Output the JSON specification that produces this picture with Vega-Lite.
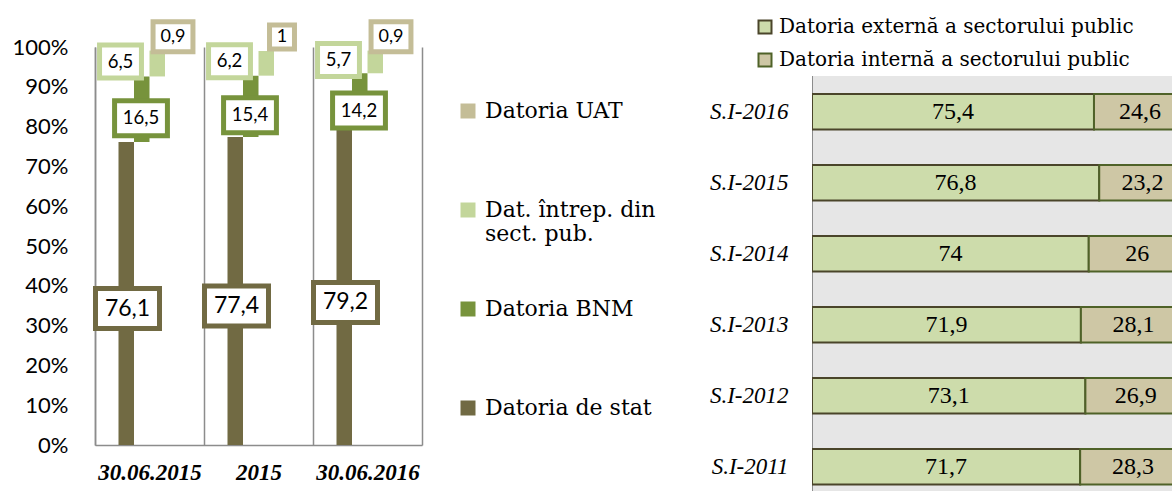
{
  "$schema": "https://vega.github.io/schema/vega-lite/v6.json",
  "background": "white",
  "padding": {"left": 12, "top": 11, "right": 0, "bottom": 0},
  "spacing": 53,
  "align": "none",
  "resolve": {
    "scale": {"color": "independent", "stroke": "independent", "x": "independent", "y": "independent"},
    "legend": {"color": "independent", "stroke": "independent"}
  },
  "config": {
    "view": {"stroke": null},
    "locale": {"number": {"decimal": ",", "thousands": ".", "grouping": [3], "currency": ["", ""]}},
    "axis": {"labelColor": "black"},
    "legend": {"labelColor": "black"}
  },
  "datasets": {
    "structure": [
      {"period": "30.06.2015", "series": "Datoria de stat", "value": 76.1},
      {"period": "30.06.2015", "series": "Datoria BNM", "value": 16.5},
      {"period": "30.06.2015", "series": "Dat. întrep. din sect. pub.", "value": 6.5},
      {"period": "30.06.2015", "series": "Datoria UAT", "value": 0.9},
      {"period": "2015", "series": "Datoria de stat", "value": 77.4},
      {"period": "2015", "series": "Datoria BNM", "value": 15.4},
      {"period": "2015", "series": "Dat. întrep. din sect. pub.", "value": 6.2},
      {"period": "2015", "series": "Datoria UAT", "value": 1},
      {"period": "30.06.2016", "series": "Datoria de stat", "value": 79.2},
      {"period": "30.06.2016", "series": "Datoria BNM", "value": 14.2},
      {"period": "30.06.2016", "series": "Dat. întrep. din sect. pub.", "value": 5.7},
      {"period": "30.06.2016", "series": "Datoria UAT", "value": 0.9}
    ],
    "shares": [
      {"period": "S.I-2016", "series": "Datoria externă a sectorului public", "value": 75.4},
      {"period": "S.I-2016", "series": "Datoria internă a sectorului public", "value": 24.6},
      {"period": "S.I-2015", "series": "Datoria externă a sectorului public", "value": 76.8},
      {"period": "S.I-2015", "series": "Datoria internă a sectorului public", "value": 23.2},
      {"period": "S.I-2014", "series": "Datoria externă a sectorului public", "value": 74},
      {"period": "S.I-2014", "series": "Datoria internă a sectorului public", "value": 26},
      {"period": "S.I-2013", "series": "Datoria externă a sectorului public", "value": 71.9},
      {"period": "S.I-2013", "series": "Datoria internă a sectorului public", "value": 28.1},
      {"period": "S.I-2012", "series": "Datoria externă a sectorului public", "value": 73.1},
      {"period": "S.I-2012", "series": "Datoria internă a sectorului public", "value": 26.9},
      {"period": "S.I-2011", "series": "Datoria externă a sectorului public", "value": 71.7},
      {"period": "S.I-2011", "series": "Datoria internă a sectorului public", "value": 28.3}
    ]
  },
  "hconcat": [
    {
      "width": 327,
      "height": 398,
      "data": {"name": "structure"},
      "transform": [
        {"stack": "value", "groupby": ["period"], "sort": [{"field": "value", "order": "descending"}], "as": ["y0", "y1"]}
      ],
      "encoding": {
        "x": {
          "field": "period", "type": "nominal",
          "sort": ["30.06.2015", "2015", "30.06.2016"],
          "scale": {"paddingInner": 0, "paddingOuter": 0},
          "axis": {
            "title": null, "tickBand": "extent", "ticks": false, "grid": true,
            "gridColor": "#8c8c8c", "gridWidth": 1.5, "domainColor": "#8c8c8c", "domainWidth": 1.5,
            "labelAngle": 0, "labelFont": "Liberation Serif", "labelFontStyle": "italic", "labelFontWeight": "bold",
            "labelFontSize": 23, "labelPadding": 16
          }
        },
        "y": {
          "field": "y0", "type": "quantitative",
          "scale": {"domain": [0, 100], "nice": false},
          "axis": {
            "title": null, "values": [0, 10, 20, 30, 40, 50, 60, 70, 80, 90, 100],
            "labelExpr": "datum.value + '%'", "labelFont": "Lato", "labelFontSize": 22,
            "ticks": false, "labelPadding": 27, "grid": false,
            "domainColor": "#8c8c8c", "domainWidth": 1.5
          }
        }
      },
      "layer": [
        {
          "mark": {"type": "bar"},
          "encoding": {
            "xOffset": {
              "field": "series", "type": "nominal",
              "scale": {"domain": [" ", "Datoria de stat", "Datoria BNM", "Dat. întrep. din sect. pub.", "Datoria UAT", "  "], "paddingInner": 0, "paddingOuter": 0.516}
            },
            "y2": {"field": "y1"},
            "color": {
              "field": "series", "type": "nominal",
              "scale": {
                "domain": ["Datoria UAT", "Dat. întrep. din sect. pub.", "Datoria BNM", "Datoria de stat"],
                "range": ["#C4BD97", "#C3D69B", "#77933C", "#716A43"]
              },
              "legend": {
                "title": null, "orient": "none", "legendX": 362, "legendY": 53, "padding": 0,
                "symbolType": "square", "symbolSize": 225, "symbolStrokeWidth": 0,
                "labelFont": "DejaVu Serif", "labelFontSize": 22, "labelLimit": 300, "labelOffset": 6,
                "rowPadding": 53,
                "labelExpr": "datum.label === 'Dat. întrep. din sect. pub.' ? ['Dat. întrep. din', 'sect. pub.'] : [datum.label, '']"
              }
            }
          }
        },
        {
          "transform": [
            {"filter": "datum.series === 'Datoria de stat'"},
            {"fold": ["y0", "y1"], "as": ["bound", "pos"]}
          ],
          "encoding": {
            "y": {"aggregate": "mean", "field": "pos", "type": "quantitative", "title": null},
            "detail": [{"field": "series", "type": "nominal"}, {"field": "value", "type": "quantitative"}]
          },
          "layer": [
            {"mark": {"type": "point", "shape": "M-1.6,-1H1.6V1H-1.6Z", "size": 1600, "filled": true, "fill": "white", "stroke": "#716A43", "strokeWidth": 5, "opacity": 1, "xOffset": -22, "yOffset": 15}},
            {"mark": {"type": "text", "font": "Lato", "fontSize": 23, "fill": "black", "xOffset": -22, "yOffset": 15},
             "encoding": {"text": {"field": "value", "type": "quantitative", "format": ".1~f"}}}
          ]
        },
        {
          "transform": [
            {"filter": "datum.series === 'Datoria BNM'"},
            {"fold": ["y0", "y1"], "as": ["bound", "pos"]}
          ],
          "encoding": {
            "y": {"aggregate": "mean", "field": "pos", "type": "quantitative", "title": null},
            "detail": [{"field": "series", "type": "nominal"}, {"field": "value", "type": "quantitative"}]
          },
          "layer": [
            {"mark": {"type": "point", "shape": "M-1.51,-1H1.51V1H-1.51Z", "size": 1225, "filled": true, "fill": "white", "stroke": "#77933C", "strokeWidth": 5, "opacity": 1, "xOffset": -8.5, "yOffset": 9}},
            {"mark": {"type": "text", "font": "Lato", "fontSize": 18.5, "fill": "black", "xOffset": -8.5, "yOffset": 9},
             "encoding": {"text": {"field": "value", "type": "quantitative", "format": ".1~f"}}}
          ]
        },
        {
          "transform": [
            {"filter": "datum.series === 'Dat. întrep. din sect. pub.'"},
            {"fold": ["y0", "y1"], "as": ["bound", "pos"]}
          ],
          "encoding": {
            "y": {"aggregate": "mean", "field": "pos", "type": "quantitative", "title": null},
            "detail": [{"field": "series", "type": "nominal"}, {"field": "value", "type": "quantitative"}]
          },
          "layer": [
            {"mark": {"type": "point", "shape": "M-1.27,-1H1.27V1H-1.27Z", "size": 1089, "filled": true, "fill": "white", "stroke": "#C3D69B", "strokeWidth": 5, "opacity": 1, "xOffset": -29, "yOffset": -2}},
            {"mark": {"type": "text", "font": "Lato", "fontSize": 18.5, "fill": "black", "xOffset": -29, "yOffset": -2},
             "encoding": {"text": {"field": "value", "type": "quantitative", "format": ".1~f"}}}
          ]
        },
        {
          "transform": [
            {"filter": "datum.series === 'Datoria UAT'"},
            {"fold": ["y0", "y1"], "as": ["bound", "pos"]}
          ],
          "encoding": {
            "y": {"aggregate": "mean", "field": "pos", "type": "quantitative", "title": null},
            "detail": [{"field": "series", "type": "nominal"}, {"field": "value", "type": "quantitative"}]
          },
          "layer": [
            {"mark": {"type": "point", "filled": true, "fill": "white", "stroke": "#C4BD97", "strokeWidth": 5, "opacity": 1, "xOffset": 23.5, "yOffset": -12},
             "encoding": {
               "shape": {"condition": {"test": "datum.value === 1", "value": "M-1.04,-1H1.04V1H-1.04Z"}, "value": "M-1.33,-1H1.33V1H-1.33Z"},
               "size": {"condition": {"test": "datum.value === 1", "value": 576}, "value": 900}
             }},
            {"mark": {"type": "text", "font": "Lato", "fontSize": 18, "fill": "black", "xOffset": 23.5, "yOffset": -12},
             "encoding": {"text": {"field": "value", "type": "quantitative", "format": ".1~f"}}}
          ]
        }
      ]
    },
    {
      "width": 360,
      "height": 445,
      "data": {"name": "shares"},
      "encoding": {
        "y": {
          "field": "period", "type": "nominal",
          "sort": ["S.I-2016", "S.I-2015", "S.I-2014", "S.I-2013", "S.I-2012", "S.I-2011"],
          "scale": {"paddingInner": 0.5, "paddingOuter": 0.384, "align": 0.862},
          "axis": {
            "title": null, "ticks": false, "grid": false, "domain": false,
            "labelFont": "Liberation Serif", "labelFontStyle": "italic", "labelFontSize": 23, "labelPadding": 24
          }
        }
      },
      "layer": [
        {
          "transform": [{"filter": "datum.period === 'S.I-2016' && datum.series === 'Datoria externă a sectorului public'"}],
          "mark": {"type": "rect", "color": "#E6E6E6", "yOffset": -18, "clip": true},
          "encoding": {
            "x": {"value": 0},
            "x2": {"value": "width"},
            "y": {"field": "period", "type": "nominal", "sort": ["S.I-2016", "S.I-2015", "S.I-2014", "S.I-2013", "S.I-2012", "S.I-2011"], "bandPosition": 0},
            "y2": {"value": "height"}
          }
        },
        {
          "transform": [{"filter": "datum.period === 'S.I-2016' && datum.series === 'Datoria externă a sectorului public'"}],
          "mark": {"type": "rule", "color": "#8c8c8c", "strokeWidth": 2, "yOffset": -18, "clip": true},
          "encoding": {
            "x": {"value": 0},
            "y": {"field": "period", "type": "nominal", "sort": ["S.I-2016", "S.I-2015", "S.I-2014", "S.I-2013", "S.I-2012", "S.I-2011"], "bandPosition": 0},
            "y2": {"value": "height"}
          }
        },
        {
          "mark": {"type": "bar", "strokeWidth": 2, "clip": true},
          "encoding": {
            "x": {"field": "value", "type": "quantitative", "stack": "zero", "scale": {"domain": [0, 96.26], "nice": false}, "axis": null},
            "order": {"field": "series", "sort": "ascending"},
            "color": {
              "field": "series", "type": "nominal",
              "scale": {"domain": ["Datoria externă a sectorului public", "Datoria internă a sectorului public"], "range": ["#CDDCAB", "#CEC7A5"]},
              "legend": {
                "title": null, "orient": "none", "legendX": -57, "legendY": -30, "direction": "vertical",
                "symbolType": "square", "symbolSize": 169, "symbolStrokeWidth": 2,
                "labelFont": "DejaVu Serif", "labelFontSize": 20, "labelOffset": 4, "rowPadding": 11, "labelLimit": 400
              }
            },
            "stroke": {
              "field": "series", "type": "nominal",
              "scale": {"domain": ["Datoria externă a sectorului public", "Datoria internă a sectorului public"], "range": ["#4A452A", "#4F6228"]},
              "legend": {
                "title": null, "orient": "none", "legendX": -57, "legendY": -30, "direction": "vertical",
                "symbolType": "square", "symbolSize": 169, "symbolStrokeWidth": 2,
                "labelFont": "DejaVu Serif", "labelFontSize": 20, "labelOffset": 4, "rowPadding": 11, "labelLimit": 400
              }
            }
          }
        },
        {
          "mark": {"type": "text", "font": "Liberation Serif", "fontSize": 24, "fill": "black"},
          "encoding": {
            "x": {"field": "value", "type": "quantitative", "stack": "zero", "bandPosition": 0.5},
            "order": {"field": "series", "sort": "ascending"},
            "detail": {"field": "series", "type": "nominal"},
            "text": {"field": "value", "type": "quantitative", "format": ".1~f"}
          }
        }
      ]
    }
  ]
}
